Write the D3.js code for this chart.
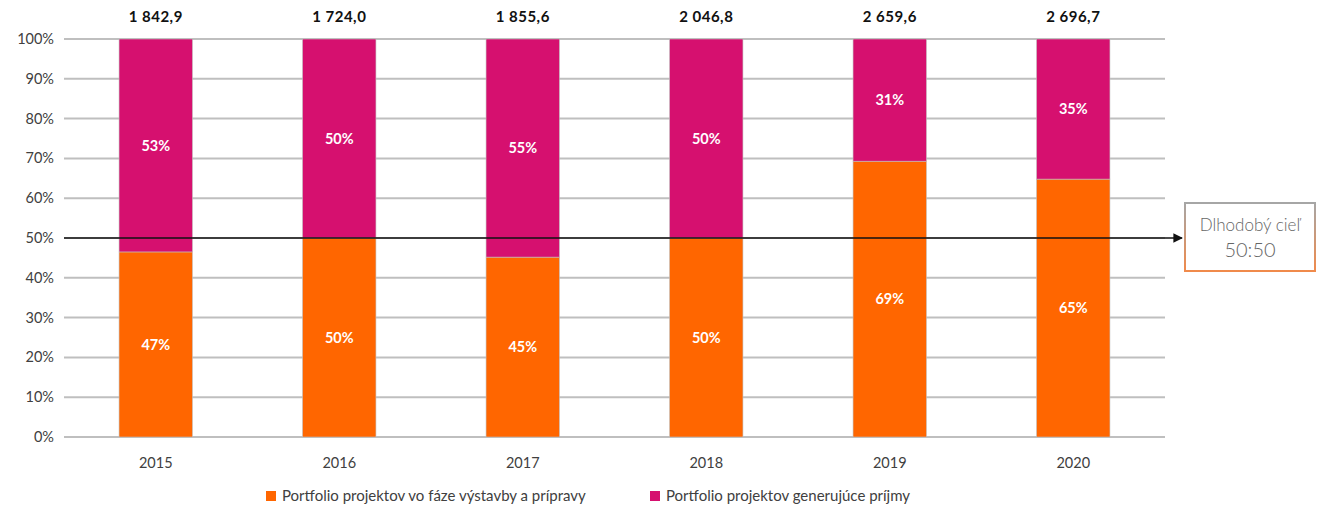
<!DOCTYPE html>
<html>
<head>
<meta charset="utf-8">
<script src="https://cdn.jsdelivr.net/npm/d3@7"></script>
<style>
  body { margin: 0; background: #fff; }
  svg { font-family: Lato, "Open Sans", sans-serif; }
</style>
</head>
<body>
<svg id="svg1"></svg>
<script>
// data
var years = ["2015", "2016", "2017", "2018", "2019", "2020"];
var totals = ["1 842,9", "1 724,0", "1 855,6", "2 046,8", "2 659,6", "2 696,7"];
var vystavba = [46.5, 50, 45.2, 50, 69.3, 64.8];   // orange, bottom
var prijmy = [53.5, 50, 54.8, 50, 30.7, 35.2];     // magenta, top
var vystavbaLab = ["47%", "50%", "45%", "50%", "69%", "65%"];
var prijmyLab = ["53%", "50%", "55%", "50%", "31%", "35%"];
var yTicks = [0, 10, 20, 30, 40, 50, 60, 70, 80, 90, 100];
var legendNames = ["Portfolio projektov vo fáze výstavby a prípravy", "Portfolio projektov generujúce príjmy"];
var target = 50;

var W = 1319, H = 510;
var margin = {top: 39, left: 64, right: 154, bottom: 73};
var width = W - margin.left - margin.right, height = H - margin.top - margin.bottom;
var cOrange = "#ff6600", cMag = "#d6106f";

var root = d3.select("#svg1").attr("width", W).attr("height", H);
var svg = root.append("g").attr("transform", `translate(${margin.left},${margin.top})`);

var x = d3.scaleBand().domain(years).range([0, width]).paddingInner(0.6).paddingOuter(0.3);
var y = d3.scaleLinear().domain([0, 100]).range([height, 0]);

// grid
svg.selectAll(".grid").data(yTicks).enter().append("line")
  .attr("x1", 0).attr("x2", width)
  .attr("y1", d => y(d)).attr("y2", d => y(d))
  .style("stroke", "#bfbfbf").style("stroke-width", 2);

// y labels
svg.selectAll(".ylab").data(yTicks).enter().append("text")
  .attr("x", -10).attr("y", d => y(d)).attr("dy", "0.35em")
  .style("text-anchor", "end").style("font-size", "14.5px").style("fill", "#404040")
  .text(d => d + "%");

var rows = years.map((yr, i) => ({yr: yr, a: vystavba[i], b: prijmy[i], la: vystavbaLab[i], lb: prijmyLab[i], t: totals[i]}));

// orange
svg.selectAll(".barA").data(rows).enter().append("rect")
  .attr("x", d => x(d.yr)).attr("width", x.bandwidth())
  .attr("y", d => y(d.a)).attr("height", d => height - y(d.a))
  .style("fill", cOrange).style("stroke", "#c0c0c0").style("stroke-width", 0.6);
// magenta
svg.selectAll(".barB").data(rows).enter().append("rect")
  .attr("x", d => x(d.yr)).attr("width", x.bandwidth())
  .attr("y", d => y(d.a + d.b)).attr("height", d => y(d.a) - y(d.a + d.b))
  .style("fill", cMag).style("stroke", "#c0c0c0").style("stroke-width", 0.6);

// in-bar labels
svg.selectAll(".labA").data(rows).enter().append("text")
  .attr("x", d => x(d.yr) + x.bandwidth() / 2).attr("y", d => y(d.a / 2)).attr("dy", "0.35em")
  .style("text-anchor", "middle").style("font-size", "14.5px").style("font-weight", "bold").style("fill", "#fff")
  .text(d => d.la);
svg.selectAll(".labB").data(rows).enter().append("text")
  .attr("x", d => x(d.yr) + x.bandwidth() / 2).attr("y", d => y(d.a + d.b / 2)).attr("dy", "0.35em")
  .style("text-anchor", "middle").style("font-size", "14.5px").style("font-weight", "bold").style("fill", "#fff")
  .text(d => d.lb);

// totals above
svg.selectAll(".tot").data(rows).enter().append("text")
  .attr("x", d => x(d.yr) + x.bandwidth() / 2).attr("y", -17)
  .style("text-anchor", "middle").style("font-size", "15px").style("font-weight", "bold").style("fill", "#111")
  .style("letter-spacing", "0.5px")
  .text(d => d.t);

// x labels
svg.selectAll(".xlab").data(years).enter().append("text")
  .attr("x", d => x(d) + x.bandwidth() / 2).attr("y", height + 31)
  .style("text-anchor", "middle").style("font-size", "14.5px").style("fill", "#404040")
  .text(d => d);

// target arrow
var defs = root.append("defs");
defs.append("marker").attr("id", "arr").attr("viewBox", "0 0 10 10")
  .attr("refX", 9).attr("refY", 5).attr("markerWidth", 6).attr("markerHeight", 6)
  .attr("markerUnits", "strokeWidth").attr("orient", "auto")
  .append("path").attr("d", "M0,0L10,5L0,10z").style("fill", "#111");
svg.append("line")
  .attr("x1", 0).attr("x2", width + 17)
  .attr("y1", y(target)).attr("y2", y(target))
  .style("stroke", "#111").style("stroke-width", 1.6).attr("marker-end", "url(#arr)");

var g = defs.append("linearGradient").attr("id", "boxg")
  .attr("x1", "0%").attr("x2", "0%").attr("y1", "0%").attr("y2", "100%");
g.append("stop").attr("offset", "0%").style("stop-color", "#a6a6a6");
g.append("stop").attr("offset", "100%").style("stop-color", "#f08a4b");

var bx = width + 20, by = y(target) - 35;
svg.append("rect").attr("x", bx).attr("y", by).attr("width", 130).attr("height", 68)
  .style("fill", "#fff").style("stroke", "url(#boxg)").style("stroke-width", 2);
svg.append("text").attr("x", bx + 65).attr("y", by + 28)
  .style("text-anchor", "middle").style("font-size", "17px").style("font-weight", 300).style("fill", "#666")
  .text("Dlhodobý cieľ");
svg.append("text").attr("x", bx + 65).attr("y", by + 54)
  .style("text-anchor", "middle").style("font-size", "20px").style("font-weight", 300).style("fill", "#666")
  .text("50:50");

// legend
var leg = root.append("g").attr("transform", "translate(266,501)");
var legX = [0, 384];
var legC = [cOrange, cMag];
leg.selectAll("rect").data(legendNames).enter().append("rect")
  .attr("x", (d, i) => legX[i]).attr("y", -10).attr("width", 10).attr("height", 10)
  .style("fill", (d, i) => legC[i]);
leg.selectAll("text").data(legendNames).enter().append("text")
  .attr("x", (d, i) => legX[i] + 16).attr("y", 0)
  .style("font-size", "15px").style("fill", "#404040")
  .text(d => d);
</script>
</body>
</html>
